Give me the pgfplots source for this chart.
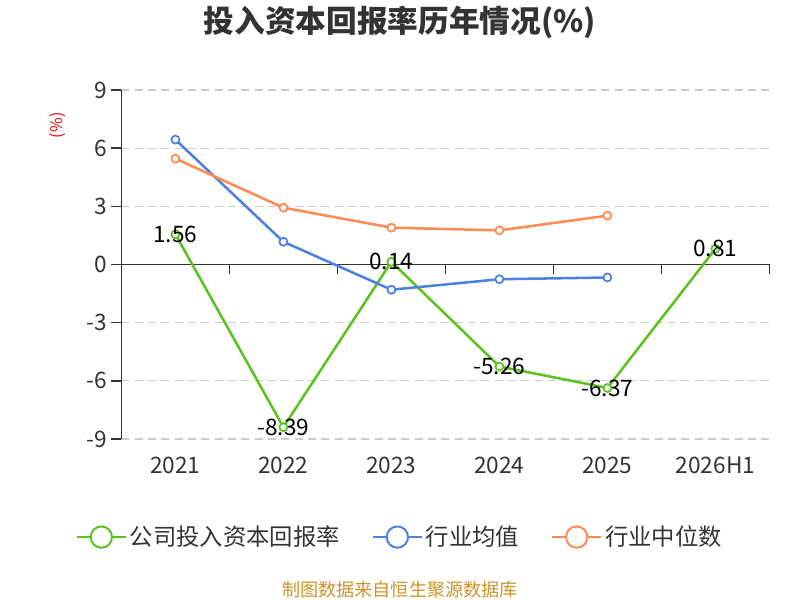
\documentclass[border=0pt]{standalone}
\usepackage{pgfplots}
\pgfplotsset{compat=1.18}
\usepackage{fontspec}
\setmainfont{Noto Sans CJK SC}
\definecolor{cg}{RGB}{91,194,31}
\definecolor{cb}{RGB}{77,128,225}
\definecolor{co}{RGB}{255,138,82}
\definecolor{ax}{RGB}{51,51,51}
\definecolor{gr}{RGB}{204,204,204}
\definecolor{src}{RGB}{204,148,40}
\begin{document}
\begin{tikzpicture}
\path[use as bounding box] (0,0) rectangle (600pt,450pt);
\node[font=\fontsize{23}{26}\selectfont\bfseries, text=ax] at (300pt,433.5pt) {投入资本回报率历年情况(\%)};
\node[font=\fontsize{12}{14}\selectfont, text=red, rotate=90] at (43.5pt,356pt) {(\%)};
\node[font=\fontsize{13.6}{15}\selectfont, text=src] at (300pt,7.5pt) {制图数据来自恒生聚源数据库};
\begin{axis}[
  at={(91.05pt,120.75pt)}, anchor=south west,
  scale only axis, width=486pt, height=261.75pt,
  xmin=-0.5, xmax=5.5, ymin=-9, ymax=9,
  axis y line=left, axis x line=bottom,
  x axis line style={draw=none},
  y axis line style={-, draw=ax, line width=1.1pt},
  xtick={0,...,5},
  xticklabels={2021,2022,2023,2024,2025,2026H1},
  major x tick style={draw=none},
  x tick label style={font=\fontsize{17}{20}\selectfont, text=ax, yshift=-2.5pt},
  ytick={-9,-6,-3,0,3,6,9},
  y tick label style={font=\fontsize{17}{20}\selectfont, text=ax},
  /pgf/number format/assume math mode=true,
  tick align=outside,
  major tick length=7.5pt,
  y tick style={draw=ax, line width=1.1pt},
  ymajorgrids,
  grid style={draw=gr, line width=0.9pt, dash pattern=on 6pt off 4pt},
  clip=false,
  legend columns=3,
  legend style={at={(0.43,-0.281)}, anchor=center, draw=none, fill=none,
    font=\fontsize{17.5}{20}\selectfont, text=ax,
    /tikz/every even column/.append style={column sep=22pt}},
  legend image code/.code={
    \draw[#1, line width=1.5pt] (0pt,0pt) -- (37pt,0pt);
    \draw[#1, line width=1.5pt, fill=white] (18.5pt,0pt) circle (8pt);
  },
  every axis plot/.append style={line width=1.9pt, mark=*, mark size=3pt, mark options={fill=white, solid, line width=1.3pt}},
]
\draw[ax, line width=1.1pt] (axis cs:-0.5,0) -- (axis cs:5.5,0);
\pgfplotsinvokeforeach{-0.5,0.5,1.5,2.5,3.5,4.5,5.5}{
  \draw[ax, line width=1.1pt] (axis cs:#1,0) -- ([yshift=-7.5pt]axis cs:#1,0);
}
\addplot[color=cg, nodes near coords, point meta=explicit symbolic,
  every node near coord/.style={anchor=center, font=\fontsize{17}{20}\selectfont, text=black}]
  table[meta=label] {
x y label
0 1.56 1.56
1 -8.39 -8.39
2 0.14 0.14
3 -5.26 -5.26
4 -6.37 -6.37
5 0.81 0.81
};
\addlegendentry{公司投入资本回报率}
\addplot[color=cb] table {
x y
0 6.44
1 1.17
2 -1.30
3 -0.76
4 -0.67
};
\addlegendentry{行业均值}
\addplot[color=co] table {
x y
0 5.46
1 2.93
2 1.90
3 1.76
4 2.52
};
\addlegendentry{行业中位数}
\end{axis}
\end{tikzpicture}
\end{document}
